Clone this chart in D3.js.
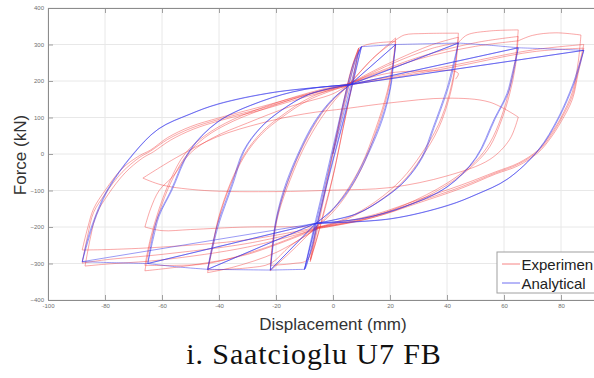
<!DOCTYPE html>
<html>
<head>
<meta charset="utf-8">
<script src="https://cdn.jsdelivr.net/npm/d3@7/dist/d3.min.js"></script>
<style>
  html, body { margin: 0; padding: 0; background: #fff; }
  svg { display: block; }
</style>
</head>
<body>
<svg id="chart" width="594" height="378"></svg>
<script>
// ---- axis ticks ----
const xTicks = [-100, -80, -60, -40, -20, 0, 20, 40, 60, 80, 100];
const xTickLabels = ["-100", "-80", "-60", "-40", "-20", "0", "20", "40", "60", "80", ""];
const yTicks = [-400, -300, -200, -100, 0, 100, 200, 300, 400];

// ---- labels ----
const xLabel = "Displacement (mm)";
const yLabel = "Force (kN)";
const caption = "i. Saatcioglu U7 FB";
const seriesNames = ["Experimen", "Analytical"];

// ---- analytical hysteresis, [displacement mm, force kN] per branch ----
const analyticalCurves = [
  [[0,0],[4,120],[8,245],[9.5,288],[10,294]],
  [[10,294],[7,200],[4,105],[1,15],[-2,-75],[-5,-170],[-8,-268],[-9.5,-310],[-10,-316]],
  [[-10,-316],[-7,-222],[-4,-125],[-1,-25],[2,75],[5,175],[8,258],[10,294]],
  [[10,294],[7.5,210],[4.5,115],[1.5,25],[-1.5,-65],[-4.5,-160],[-7.5,-260],[-10,-316]],
  [[-10,-316],[-7.5,-228],[-4.5,-130],[-1.5,-30],[1.5,70],[4.5,170],[7.5,255],[10,294]],
  [[10,294],[16,297],[22,300]],
  [[22,300],[21,240],[20,180],[17,95],[12,0],[6,-90],[0,-150],[-6,-190]],
  [[-6,-190],[-10,-316]],
  [[-10,-316],[-16,-317],[-22,-318]],
  [[-22,-318],[-21,-250],[-20,-189],[-17,-100],[-12,0],[-6,90],[0,150],[6,190]],
  [[6,190],[22,300]],
  [[22,300],[21.2,245],[20.3,185],[17.5,98],[12.5,2],[6.5,-88],[0.5,-148],[-6,-190]],
  [[-6,-190],[-22,-318]],
  [[-22,-318],[-21.2,-255],[-20.3,-192],[-17.5,-103],[-12.5,-3],[-6.5,88],[-0.5,148],[6,190]],
  [[6,190],[22,300]],
  [[22,300],[33,302],[44,304]],
  [[44,304],[42,240],[40,180],[35,70],[31,-11],[25,-75],[18,-120],[8,-165],[-6,-190]],
  [[-6,-190],[-22,-318]],
  [[-22,-318],[-33,-317],[-44,-316]],
  [[-44,-316],[-42,-250],[-40,-190],[-35,-80],[-31,11],[-25,75],[-18,120],[-8,165],[6,190]],
  [[6,190],[44,304]],
  [[44,304],[42.5,245],[40.5,183],[35.5,73],[31.5,-8],[25.5,-72],[18.5,-118],[8.5,-163],[-6,-190]],
  [[-6,-190],[-44,-316]],
  [[-44,-316],[-42.5,-255],[-40.5,-193],[-35.5,-83],[-31.5,8],[-25.5,72],[-18.5,118],[-8.5,163],[6,190]],
  [[6,190],[44,304]],
  [[44,304],[55,298],[65,291]],
  [[65,291],[63,225],[61,165],[56.5,95],[50,-11],[40,-90],[25,-145],[10,-177],[-6,-190]],
  [[-6,-190],[-44,-316]],
  [[-44,-316],[-55,-309],[-65,-300]],
  [[-65,-300],[-63,-230],[-61,-170],[-56.5,-99],[-50,11],[-40,90],[-25,145],[-10,177],[6,190]],
  [[6,190],[65,291]],
  [[65,291],[63.5,230],[61.5,168],[57,98],[50.5,-8],[40.5,-88],[25.5,-143],[10.5,-176],[-6,-190]],
  [[-6,-190],[-65,-300]],
  [[-65,-300],[-63.5,-235],[-61.5,-173],[-57,-102],[-50.5,8],[-40.5,88],[-25.5,143],[-10.5,176],[6,190]],
  [[6,190],[65,291]],
  [[65,291],[76,288],[88,284]],
  [[88,284],[86,235],[84,188],[79,99],[72,11],[61,-70],[50,-112],[40,-142],[20,-178],[-6,-190]],
  [[-6,-190],[-65,-300]],
  [[-65,-300],[-76,-298],[-88,-295]],
  [[-88,-295],[-86,-240],[-84,-190],[-79,-99],[-70,0],[-61,70],[-50,110],[-40,138],[-20,170],[6,190]],
  [[6,190],[88,284]],
  [[88,284],[86.5,240],[84.5,192],[79.5,102],[72.5,14],[61.5,-67],[50.5,-110],[40.5,-140],[20.5,-177],[-6,-190]],
  [[-6,-190],[-88,-295]],
  [[-88,-295],[-86.5,-245],[-84.5,-194],[-79.5,-102],[-70.5,-3],[-61.5,67],[-50.5,108],[-40.5,136],[-20.5,169],[6,190]],
  [[6,190],[88,284]]
];

// ---- experimental hysteresis, [displacement mm, force kN] per branch ----
const experimentalCurves = [
  [[0,0],[3,100],[6,200],[8,265],[9,285]],
  [[9,285],[6.5,180],[3.5,70],[0.5,-45],[-3,-150],[-6,-240],[-8,-290]],
  [[-8,-290],[-5.5,-195],[-2.5,-85],[0.5,25],[3.5,135],[6.5,235],[9,290]],
  [[9,290],[6.5,185],[3,50],[-1,-95],[-4.5,-200],[-8,-295]],
  [[-8,-295],[-5,-190],[-2,-75],[1,40],[4,150],[7,245],[9,290]],
  [[9,290],[12,300],[16,305],[22,308]],
  [[22,308],[21,240],[19,160],[15,60],[10,-40],[4,-120],[-2,-175],[-6,-200]],
  [[-6,-200],[-9,-290],[-14,-300],[-22,-305]],
  [[-22,-305],[-21,-230],[-19,-150],[-15,-60],[-10,30],[-4,110],[2,165],[6,195]],
  [[6,195],[14,262],[22,318]],
  [[22,318],[21,250],[19,170],[15,70],[10,-30],[4,-110],[-2,-170],[-6,-200]],
  [[-6,-200],[-14,-262],[-22,-320]],
  [[-22,-320],[-21,-240],[-19,-160],[-15,-70],[-10,20],[-4,100],[2,160],[6,192]],
  [[6,192],[14,262],[22,312]],
  [[22,312],[25,326],[32,330],[44,331]],
  [[44,331],[43,250],[41,170],[37,80],[31,0],[24,-70],[15,-130],[5,-175],[-5,-200]],
  [[-5,-200],[-15,-252],[-22,-300],[-30,-312],[-44,-318]],
  [[-44,-318],[-42,-240],[-40,-170],[-36,-80],[-31,0],[-25,60],[-18,105],[-8,155],[5,190]],
  [[5,190],[20,250],[35,300],[44,320]],
  [[44,320],[43,240],[41,160],[37,70],[31,-10],[24,-80],[15,-135],[5,-178],[-5,-202]],
  [[-5,-202],[-20,-270],[-35,-310],[-44,-325]],
  [[-44,-325],[-42,-245],[-40,-175],[-36,-85],[-31,-5],[-25,55],[-18,100],[-8,150],[5,188]],
  [[5,188],[20,245],[35,290],[44,305]],
  [[44,305],[47,326],[55,337],[65,340]],
  [[65,340],[64,260],[62,180],[59,100],[55,30],[50,-20],[40,-80],[25,-140],[10,-180],[-5,-200]],
  [[-5,-200],[-25,-260],[-44,-300],[-55,-305],[-66,-305]],
  [[-66,-305],[-64,-230],[-61,-150],[-57,-70],[-52,0],[-45,50],[-35,95],[-20,140],[-5,175],[5,192]],
  [[5,192],[30,265],[50,305],[65,322]],
  [[65,322],[64,240],[62,165],[59,90],[55,20],[50,-25],[40,-85],[25,-145],[10,-182],[-5,-203]],
  [[-5,-203],[-30,-275],[-50,-305],[-66,-320]],
  [[-66,-320],[-64,-240],[-61,-160],[-57,-80],[-52,-10],[-45,45],[-35,90],[-20,135],[-5,172],[5,190]],
  [[5,190],[30,260],[50,295],[65,310]],
  [[65,310],[70,325],[78,332],[87,326]],
  [[87,326],[86,250],[84,170],[80,100],[76,50],[72,11],[65,-25],[57,-49],[45,-85],[30,-125],[15,-165],[0,-192],[-5,-200]],
  [[-5,-200],[-30,-235],[-60,-255],[-80,-262],[-88,-263]],
  [[-88,-263],[-86,-200],[-84,-150],[-80,-100],[-74,-40],[-68,-5],[-64,11],[-58,45],[-50,75],[-40,99],[-25,130],[-10,162],[5,190]],
  [[5,190],[40,240],[70,285],[88,300]],
  [[88,300],[86,230],[84,160],[80,95],[76,45],[72,8],[65,-28],[57,-52],[45,-90],[30,-130],[15,-168],[0,-195],[-5,-202]],
  [[-5,-202],[-30,-245],[-60,-275],[-80,-290],[-88,-299]],
  [[-88,-299],[-86,-220],[-84,-160],[-80,-110],[-74,-50],[-68,-10],[-64,8],[-58,40],[-50,70],[-40,95],[-25,125],[-10,160],[5,188]],
  [[5,188],[40,235],[70,280],[88,290]],
  [[88,290],[86,220],[84,150],[80,88],[76,40],[72,4],[65,-32],[57,-55],[45,-94],[30,-134],[15,-172],[0,-197],[-5,-204]],
  [[-5,-204],[-30,-255],[-60,-290],[-80,-302],[-87,-307]],
  [[-87,-307],[-85,-225],[-83,-165],[-79,-112],[-73,-52],[-67,-12],[-63,6],[-57,38],[-49,68],[-39,93],[-24,123],[-9,158],[5,186]],
  // late cycles at reduced strength
  [[-5,-200],[-30,-200],[-50,-207],[-60,-210],[-66,-200]],
  [[-66,-200],[-64,-150],[-61,-100],[-56,-60],[-50,3],[-42,45],[-30,85],[-15,130],[0,165],[5,188]],
  [[5,192],[20,222],[35,228],[42,228],[44,220],[43,205]],
  [[-66.7,-66],[-55,-10],[-40.7,47],[-25,85],[-10,110],[5,125],[20,140],[40,153],[55,142],[65,101]],
  [[65,101],[62,40],[55,-15],[40,-60],[20,-92],[0,-99],[-20,-103],[-45,-100],[-60,-85],[-66.7,-66]]
];

// ---- layout ----
const svg = d3.select("#chart");
const plot = { left: 48, top: 8, right: 618, bottom: 300 };

const x = d3.scaleLinear().domain([-100, 100]).range([plot.left, plot.right]);
const y = d3.scaleLinear().domain([-400, 400]).range([plot.bottom, plot.top]);

svg.append("defs").append("clipPath").attr("id", "plotClip")
  .append("rect")
  .attr("x", plot.left).attr("y", plot.top)
  .attr("width", plot.right - plot.left).attr("height", plot.bottom - plot.top);

// grid
const grid = svg.append("g").attr("class", "grid");
grid.selectAll("line.gx").data(xTicks).join("line")
  .attr("x1", d => x(d)).attr("x2", d => x(d))
  .attr("y1", plot.top).attr("y2", plot.bottom)
  .attr("stroke", "#e8e8e8").attr("stroke-width", 1);
grid.selectAll("line.gy").data(yTicks).join("line")
  .attr("x1", plot.left).attr("x2", plot.right)
  .attr("y1", d => y(d)).attr("y2", d => y(d))
  .attr("stroke", "#e8e8e8").attr("stroke-width", 1);

// curves
const line = d3.line()
  .x(d => x(d[0])).y(d => y(d[1]))
  .curve(d3.curveCatmullRom.alpha(0.5));

const curves = svg.append("g").attr("clip-path", "url(#plotClip)");
curves.selectAll("path.exp").data(experimentalCurves).join("path")
  .attr("class", "exp")
  .attr("d", line)
  .attr("fill", "none")
  .attr("stroke", "rgba(240,50,50,0.5)")
  .attr("stroke-width", 0.85);
curves.selectAll("path.ana").data(analyticalCurves).join("path")
  .attr("class", "ana")
  .attr("d", line)
  .attr("fill", "none")
  .attr("stroke", "rgba(50,50,235,0.58)")
  .attr("stroke-width", 0.85);

// axes (box with inward ticks)
const axisColor = "#8c8c8c";
const tickLen = 5;
const xBottom = svg.append("g").attr("transform", `translate(0,${plot.bottom})`)
  .call(d3.axisBottom(x).tickValues(xTicks).tickSizeInner(-tickLen).tickSizeOuter(0).tickPadding(5)
    .tickFormat((d, i) => xTickLabels[i]));
const xTop = svg.append("g").attr("transform", `translate(0,${plot.top})`)
  .call(d3.axisTop(x).tickValues(xTicks).tickSizeInner(-tickLen).tickSizeOuter(0).tickFormat(""));
const yLeft = svg.append("g").attr("transform", `translate(${plot.left},0)`)
  .call(d3.axisLeft(y).tickValues(yTicks).tickSizeInner(-tickLen).tickSizeOuter(0).tickPadding(4));

[xBottom, xTop, yLeft].forEach(g => {
  g.select(".domain").attr("stroke", axisColor).attr("stroke-width", 1);
  g.selectAll(".tick line").attr("stroke", axisColor).attr("stroke-width", 0.8);
  g.selectAll(".tick text")
    .attr("fill", "#6e6e6e")
    .attr("font-family", "Liberation Sans, Arial, sans-serif")
    .attr("font-size", 6);
});
xBottom.selectAll(".tick text").attr("dy", "0.45em");

// axis titles
svg.append("text")
  .attr("x", 333).attr("y", 330)
  .attr("text-anchor", "middle")
  .attr("font-family", "Liberation Sans, Arial, sans-serif")
  .attr("font-size", 17)
  .attr("fill", "#333")
  .text(xLabel);

svg.append("text")
  .attr("transform", "translate(26,155) rotate(-90)")
  .attr("text-anchor", "middle")
  .attr("font-family", "Liberation Sans, Arial, sans-serif")
  .attr("font-size", 17)
  .attr("fill", "#333")
  .text(yLabel);

// caption
svg.append("text")
  .attr("x", 314).attr("y", 364)
  .attr("text-anchor", "middle")
  .attr("font-family", "Liberation Serif, Times New Roman, serif")
  .attr("font-size", 30)
  .attr("letter-spacing", 0.9)
  .attr("fill", "#111")
  .text(caption);

// legend
const legend = svg.append("g").attr("transform", "translate(497,252)");
legend.append("rect")
  .attr("x", 0).attr("y", 0).attr("width", 130).attr("height", 41)
  .attr("fill", "#fff").attr("stroke", "#a0a0a0").attr("stroke-width", 1);
const legendColors = ["rgba(240,50,50,0.6)", "rgba(50,50,235,0.7)"];
seriesNames.forEach((name, i) => {
  const ly = 12 + i * 19;
  legend.append("line")
    .attr("x1", 5).attr("x2", 23).attr("y1", ly).attr("y2", ly)
    .attr("stroke", legendColors[i]).attr("stroke-width", 1);
  legend.append("text")
    .attr("x", 24.5).attr("y", ly + 5.5)
    .attr("font-family", "Liberation Sans, Arial, sans-serif")
    .attr("font-size", 15)
    .attr("fill", "#222")
    .text(name);
});
</script>
</body>
</html>
